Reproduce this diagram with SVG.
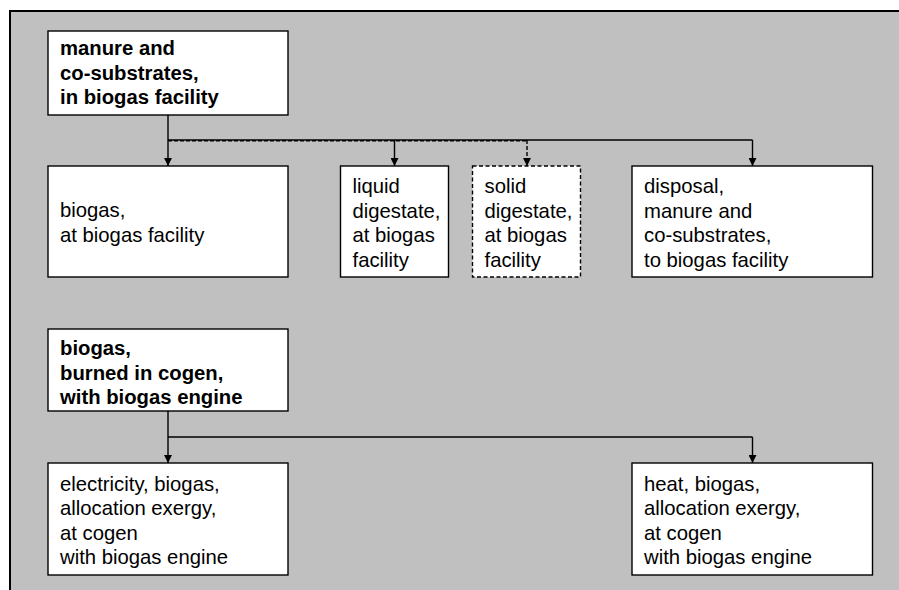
<svg xmlns="http://www.w3.org/2000/svg" width="899" height="590" viewBox="0 0 899 590">
<style>
.box{fill:#ffffff;stroke:#000000;stroke-width:1.4}
.dbox{fill:#ffffff;stroke:#000000;stroke-width:1.4;stroke-dasharray:4 2.5}
.t{font-family:"Liberation Sans",Arial,sans-serif;font-size:20.3px;fill:#000000}
.b{font-weight:bold}
.ln{fill:none;stroke:#000000;stroke-width:1.4}
.dl{fill:none;stroke:#000000;stroke-width:1.4;stroke-dasharray:4 2}
</style>
<defs>
<marker id="ah" markerWidth="8" markerHeight="8" refX="8" refY="4" orient="auto" markerUnits="userSpaceOnUse">
<path d="M0,0 L8,4 L0,8 Z" fill="#000000"/>
</marker>
</defs>
<rect x="0" y="0" width="899" height="590" fill="#ffffff"/>
<rect x="10" y="11" width="900" height="600" fill="#c0c0c0" stroke="#000000" stroke-width="2"/>
<g id="connectors">
<line class="ln" x1="168" y1="115" x2="168" y2="166" marker-end="url(#ah)"/>
<line class="ln" x1="168" y1="140" x2="752.5" y2="140"/>
<line class="dl" x1="168" y1="140.8" x2="527" y2="140.8"/>
<line class="ln" x1="394.5" y1="140" x2="394.5" y2="166" marker-end="url(#ah)"/>
<line class="dl" x1="527" y1="140" x2="527" y2="166" marker-end="url(#ah)"/>
<line class="ln" x1="752.5" y1="140" x2="752.5" y2="166" marker-end="url(#ah)"/>
<line class="ln" x1="168" y1="411" x2="168" y2="463" marker-end="url(#ah)"/>
<line class="ln" x1="168" y1="437" x2="752.5" y2="437"/>
<line class="ln" x1="752.5" y1="437" x2="752.5" y2="463" marker-end="url(#ah)"/>
</g>
<g id="manure">
<rect class="box" x="48" y="31" width="240" height="84"/>
<text class="t b" x="60" y="55">manure and</text>
<text class="t b" x="60" y="79.5">co-substrates,</text>
<text class="t b" x="60" y="104">in biogas facility</text>
</g>
<g id="biogas">
<rect class="box" x="48" y="166" width="240" height="111"/>
<text class="t" x="60" y="217">biogas,</text>
<text class="t" x="60" y="241.5">at biogas facility</text>
</g>
<g id="liquid">
<rect class="box" x="340.5" y="166" width="108" height="111"/>
<text class="t" x="352.5" y="193">liquid</text>
<text class="t" x="352.5" y="217.5">digestate,</text>
<text class="t" x="352.5" y="242">at biogas</text>
<text class="t" x="352.5" y="266.5">facility</text>
</g>
<g id="solid">
<rect class="dbox" x="472.5" y="166" width="108" height="111"/>
<text class="t" x="484.5" y="193">solid</text>
<text class="t" x="484.5" y="217.5">digestate,</text>
<text class="t" x="484.5" y="242">at biogas</text>
<text class="t" x="484.5" y="266.5">facility</text>
</g>
<g id="disposal">
<rect class="box" x="632" y="166" width="240.5" height="111"/>
<text class="t" x="644" y="193">disposal,</text>
<text class="t" x="644" y="217.5">manure and</text>
<text class="t" x="644" y="242">co-substrates,</text>
<text class="t" x="644" y="266.5">to biogas facility</text>
</g>
<g id="cogen">
<rect class="box" x="48" y="329" width="240" height="82"/>
<text class="t b" x="60" y="355">biogas,</text>
<text class="t b" x="60" y="379.5">burned in cogen,</text>
<text class="t b" x="60" y="404">with biogas engine</text>
</g>
<g id="electricity">
<rect class="box" x="48" y="463" width="240" height="112"/>
<text class="t" x="60" y="491">electricity, biogas,</text>
<text class="t" x="60" y="515.3">allocation exergy,</text>
<text class="t" x="60" y="539.6">at cogen</text>
<text class="t" x="60" y="564">with biogas engine</text>
</g>
<g id="heat">
<rect class="box" x="632" y="463" width="240.5" height="112"/>
<text class="t" x="644" y="491">heat, biogas,</text>
<text class="t" x="644" y="515.3">allocation exergy,</text>
<text class="t" x="644" y="539.6">at cogen</text>
<text class="t" x="644" y="564">with biogas engine</text>
</g>
</svg>
